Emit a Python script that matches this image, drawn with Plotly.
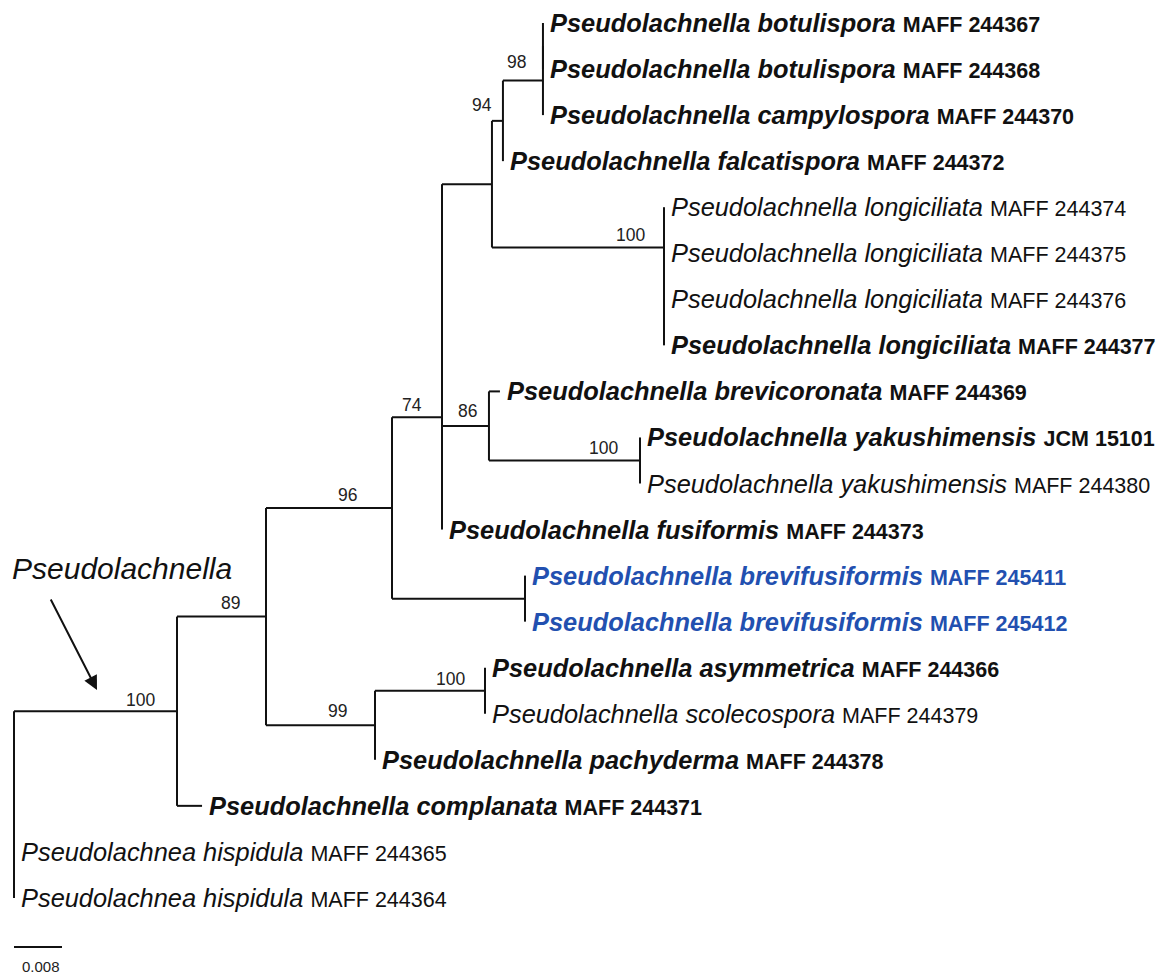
import plotly.graph_objects as go

# ---------------- data ----------------
species = [
    "Pseudolachnella botulispora", "Pseudolachnella botulispora",
    "Pseudolachnella campylospora", "Pseudolachnella falcatispora",
    "Pseudolachnella longiciliata", "Pseudolachnella longiciliata",
    "Pseudolachnella longiciliata", "Pseudolachnella longiciliata",
    "Pseudolachnella brevicoronata", "Pseudolachnella yakushimensis",
    "Pseudolachnella yakushimensis", "Pseudolachnella fusiformis",
    "Pseudolachnella brevifusiformis", "Pseudolachnella brevifusiformis",
    "Pseudolachnella asymmetrica", "Pseudolachnella scolecospora",
    "Pseudolachnella pachyderma", "Pseudolachnella complanata",
    "Pseudolachnea hispidula", "Pseudolachnea hispidula",
]
strains = [
    "MAFF 244367", "MAFF 244368", "MAFF 244370", "MAFF 244372",
    "MAFF 244374", "MAFF 244375", "MAFF 244376", "MAFF 244377",
    "MAFF 244369", "JCM 15101", "MAFF 244380", "MAFF 244373",
    "MAFF 245411", "MAFF 245412", "MAFF 244366", "MAFF 244379",
    "MAFF 244378", "MAFF 244371", "MAFF 244365", "MAFF 244364",
]
is_bold = [1, 1, 1, 1, 0, 0, 0, 1, 1, 1, 0, 1, 1, 1, 1, 0, 1, 1, 0, 0]
is_new = [0, 0, 0, 0, 0, 0, 0, 0, 0, 0, 0, 0, 1, 1, 0, 0, 0, 0, 0, 0]

# tree topology with branch lengths (substitutions/site) and bootstrap support
newick = (
    "((((((((((L0:0,L1:0):0,L2:0)98:0.00667,L3:0)94:0.00183,"
    "(L4:0,(L5:0,(L6:0,L7:0):0):0)100:0.02867):0.00833,"
    "(L8:0.00183,(L9:0,L10:0)100:0.02517)86:0.00783):0,L11:0)74:0.00833,"
    "(L12:0,L13:0):0.02217)96:0.021,"
    "((L14:0,L15:0)100:0.01833,L16:0)99:0.01817)89:0.01483,"
    "L17:0.00417)100:0.02717,L18:0,L19:0);"
)
scale_bar_length = 0.008
group_label = "Pseudolachnella"

# ---------------- styles ----------------
OFF = 8                   # page body margin (px)
PX_PER_UNIT = 6000.0      # horizontal pixels per substitution unit
X0_PX = 14.0 - OFF        # pixel of the root
ROW0_PX = 23.0 - OFF      # pixel of the first row
ROW_PX = 46.05            # pixels between rows
W, H = 1158, 971
LINE_COLOR = "#111111"
BLUE = "#2250b0"
FONT = "Liberation Sans, Arial, sans-serif"
# bootstrap label offsets (px) in preorder: (x shift of right edge, gap above branch)
support_offsets = [(-22, 4), (-26, 7), (-35, 6), (-20, 5), (-11, 9), (-17, 12),
                   (-19, 5), (-12, 8), (-22, 5), (-28, 7), (-20, 5)]


def parse(s):
    pos = 0

    def node():
        nonlocal pos
        kids = []
        if s[pos] == "(":
            pos += 1
            kids.append(node())
            while s[pos] == ",":
                pos += 1
                kids.append(node())
            pos += 1  # ')'
        start = pos
        while s[pos] not in ":,();":
            pos += 1
        label = s[start:pos]
        length = 0.0
        if s[pos] == ":":
            pos += 1
            start = pos
            while s[pos] not in ",();":
                pos += 1
            length = float(s[start:pos])
        return {"label": label, "len": length, "kids": kids}

    return node()


root = parse(newick)


def layout(n, x):
    n["x"] = x
    for k in n["kids"]:
        layout(k, x + k["len"])
    if n["kids"]:
        n["y"] = (n["kids"][0]["y"] + n["kids"][-1]["y"]) / 2.0
    else:
        n["y"] = float(int(n["label"][1:]))


layout(root, 0.0)

xs, ys = [], []
leaves, supports = [], []


def collect(n, parent):
    if parent is not None:
        xs.extend([parent["x"], n["x"], None])
        ys.extend([n["y"], n["y"], None])
    if n["kids"]:
        xs.extend([n["x"], n["x"], None])
        ys.extend([n["kids"][0]["y"], n["kids"][-1]["y"], None])
        if n["label"]:
            supports.append(n)
        for k in n["kids"]:
            collect(k, n)
    else:
        leaves.append(n)


collect(root, None)

fig = go.Figure()
fig.add_trace(go.Scatter(x=xs, y=ys, mode="lines",
                         line=dict(color=LINE_COLOR, width=2),
                         hoverinfo="skip", showlegend=False))

# scale bar
bar_row = (947 - OFF - ROW0_PX) / ROW_PX
fig.add_trace(go.Scatter(x=[0, scale_bar_length], y=[bar_row, bar_row], mode="lines",
                         line=dict(color=LINE_COLOR, width=2),
                         hoverinfo="skip", showlegend=False))

annotations = []
for n in leaves:
    i = int(n["label"][1:])
    sp = f"<i>{species[i]}</i> <span style='font-size:21.5px'>{strains[i]}</span>"
    if is_bold[i]:
        sp = f"<b>{sp}</b>"
    annotations.append(dict(
        x=n["x"], y=n["y"], xref="x", yref="y", text=sp, showarrow=False,
        xanchor="left", yanchor="middle", xshift=5,
        font=dict(family=FONT, size=25.4, color=BLUE if is_new[i] else "#111111"),
    ))

for n, (dx, gap) in zip(supports, support_offsets):
    annotations.append(dict(
        x=n["x"], y=n["y"], xref="x", yref="y", text=n["label"], showarrow=False,
        xanchor="right", yanchor="bottom", xshift=dx + 2, yshift=gap - 5,
        font=dict(family=FONT, size=17.5, color="#222222"),
    ))

annotations.append(dict(
    x=scale_bar_length / 2, y=bar_row, xref="x", yref="y", text=f"{scale_bar_length}",
    showarrow=False, xanchor="center", yanchor="top", xshift=3, yshift=-9,
    font=dict(family=FONT, size=15, color="#222222"),
))

annotations.append(dict(
    x=(10 - OFF) / W, y=1 - (568 - OFF) / H, xref="paper", yref="paper",
    text=f"<i>{group_label}</i>",
    showarrow=False, xanchor="left", yanchor="middle",
    font=dict(family=FONT, size=30, color="#111111"),
))
annotations.append(dict(
    x=(97 - OFF) / W, y=1 - (690 - OFF) / H, xref="paper", yref="paper", text="",
    showarrow=True, ax=-47, ay=-92, arrowhead=2, arrowsize=1.4, arrowwidth=2,
    arrowcolor="#111111", standoff=0,
))

fig.update_layout(
    width=W, height=H, margin=dict(l=0, r=0, t=0, b=0),
    paper_bgcolor="white", plot_bgcolor="white",
    xaxis=dict(range=[-X0_PX / PX_PER_UNIT, (W - X0_PX) / PX_PER_UNIT],
               visible=False, fixedrange=True),
    yaxis=dict(range=[(H - ROW0_PX) / ROW_PX, -ROW0_PX / ROW_PX],
               visible=False, fixedrange=True),
    annotations=annotations,
)

fig.write_html("out.html")
